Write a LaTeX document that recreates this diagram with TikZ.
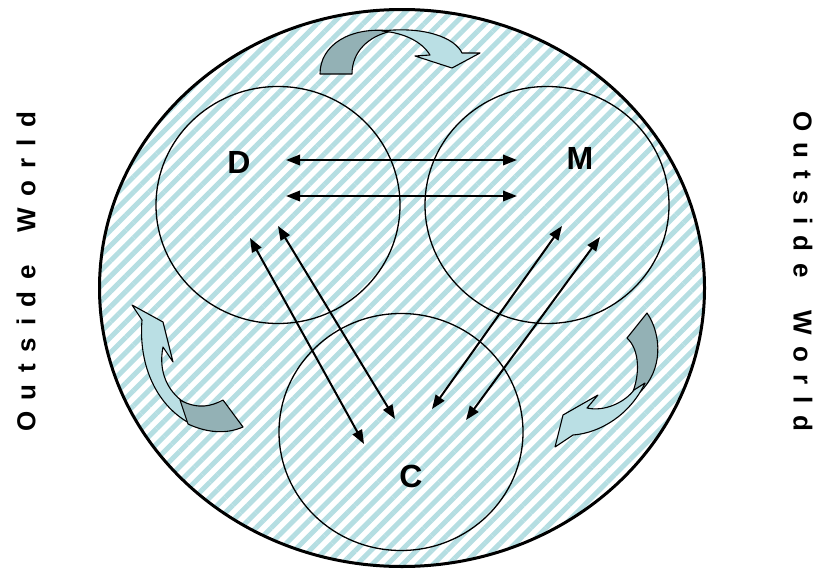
\documentclass[tikz,border=0pt]{standalone}
\usepackage{fontspec}
\setmainfont{Liberation Sans}
\usepackage{tikz}
\usetikzlibrary{arrows.meta,shapes.geometric,patterns.meta}
\definecolor{StripeBlue}{HTML}{B5DEE2}
\definecolor{ArrowLight}{HTML}{BADFE4}
\definecolor{ArrowDark}{HTML}{93B1B5}
\newfontfamily\spacedfont[LetterSpace=45]{Liberation Sans}

\begin{document}
\begin{tikzpicture}[x=1pt,y=-1pt,>={Triangle[length=14pt,width=10.5pt]},
 world/.style={draw=black,line width=3pt,ellipse,minimum width=605pt,minimum height=557pt,
 pattern={Lines[angle=45,distance=10.8pt,line width=5pt]},pattern color=StripeBlue},
 ring/.style={draw=black,line width=1.3pt,ellipse,minimum width=244pt,minimum height=237pt},
 letter/.style={font=\bfseries\fontsize{32}{34}\selectfont,inner sep=0pt},
 outside/.style={font=\spacedfont\bfseries\fontsize{26}{28}\selectfont,inner sep=0pt},
 link/.style={<->,line width=2pt},
 turnlight/.style={draw=black,line width=1.1pt,line join=round,fill=ArrowLight},
 turndark/.style={draw=black,line width=1.1pt,line join=round,fill=ArrowDark}]
 \useasboundingbox (0,0) rectangle (824,570);
 \node[world] (world) at (402,288) {};
 \node[ring] (dring) at (278,205) {};
 \node[ring] (mring) at (547,205) {};
 \node[ring] (cring) at (401,432) {};
 \node[letter] (dlab) at (239,162) {D};
 \node[letter] (mlab) at (580,158) {M};
 \node[letter] (clab) at (411,476) {C};
 \node[outside,rotate=90] (owleft) at (26,272) {Outside\hspace{14pt} World};
 \node[outside,rotate=-90] (owright) at (803,271) {Outside\hspace{14pt} World};
 % end points of the links
 \coordinate (dtop) at (286,160); \coordinate (mtop) at (517,160);
 \coordinate (dlow) at (286,196); \coordinate (mlow) at (517,196);
 \coordinate (dc1) at (250,238); \coordinate (cd1) at (364,444);
 \coordinate (dc2) at (278,226); \coordinate (cd2) at (395,419);
 \coordinate (mc1) at (562,226); \coordinate (cm1) at (432,409);
 \coordinate (mc2) at (600,237); \coordinate (cm2) at (466,420);
 \draw[link] (dtop)--(mtop);
 \draw[link] (dlow)--(mlow);
 \draw[link] (dc1)--(cd1);
 \draw[link] (dc2)--(cd2);
 \draw[link] (mc1)--(cm1);
 \draw[link] (mc2)--(cm2);
 % top turn
 \draw[turndark] (320,74) -- (352,74) .. controls (352,52) and (368,36) .. (392,31)
 .. controls (350,26) and (320,45) .. (320,74) -- cycle;
 \draw[turnlight] (382,31) .. controls (425,26) and (455,38) .. (462,53) -- (480,53) -- (452,68)
 -- (415,56) -- (430,55) .. controls (422,42) and (405,33) .. (382,31) -- cycle;
 % left turn
 \draw[turnlight] (132,305) -- (163,322) -- (173,362) -- (163,347)
 .. controls (158,372) and (168,392) .. (185,403) -- (195,426)
 .. controls (160,410) and (138,370) .. (142,320) -- cycle;
 \draw[turndark] (180,400) .. controls (198,410) and (212,406) .. (223,400) -- (243,427)
 .. controls (225,435) and (205,432) .. (188,424) -- cycle;
 % right turn
 \draw[turndark] (647,313) .. controls (662,335) and (663,370) .. (640,392) -- (632,394)
 .. controls (640,375) and (640,350) .. (627,338) -- cycle;
 \draw[turnlight] (555,447) -- (563,415) -- (598,395) -- (587,408)
 .. controls (605,412) and (625,402) .. (634,390) -- (645,383)
 .. controls (630,415) and (600,433) .. (573,435) -- cycle;
\end{tikzpicture}
\end{document}
